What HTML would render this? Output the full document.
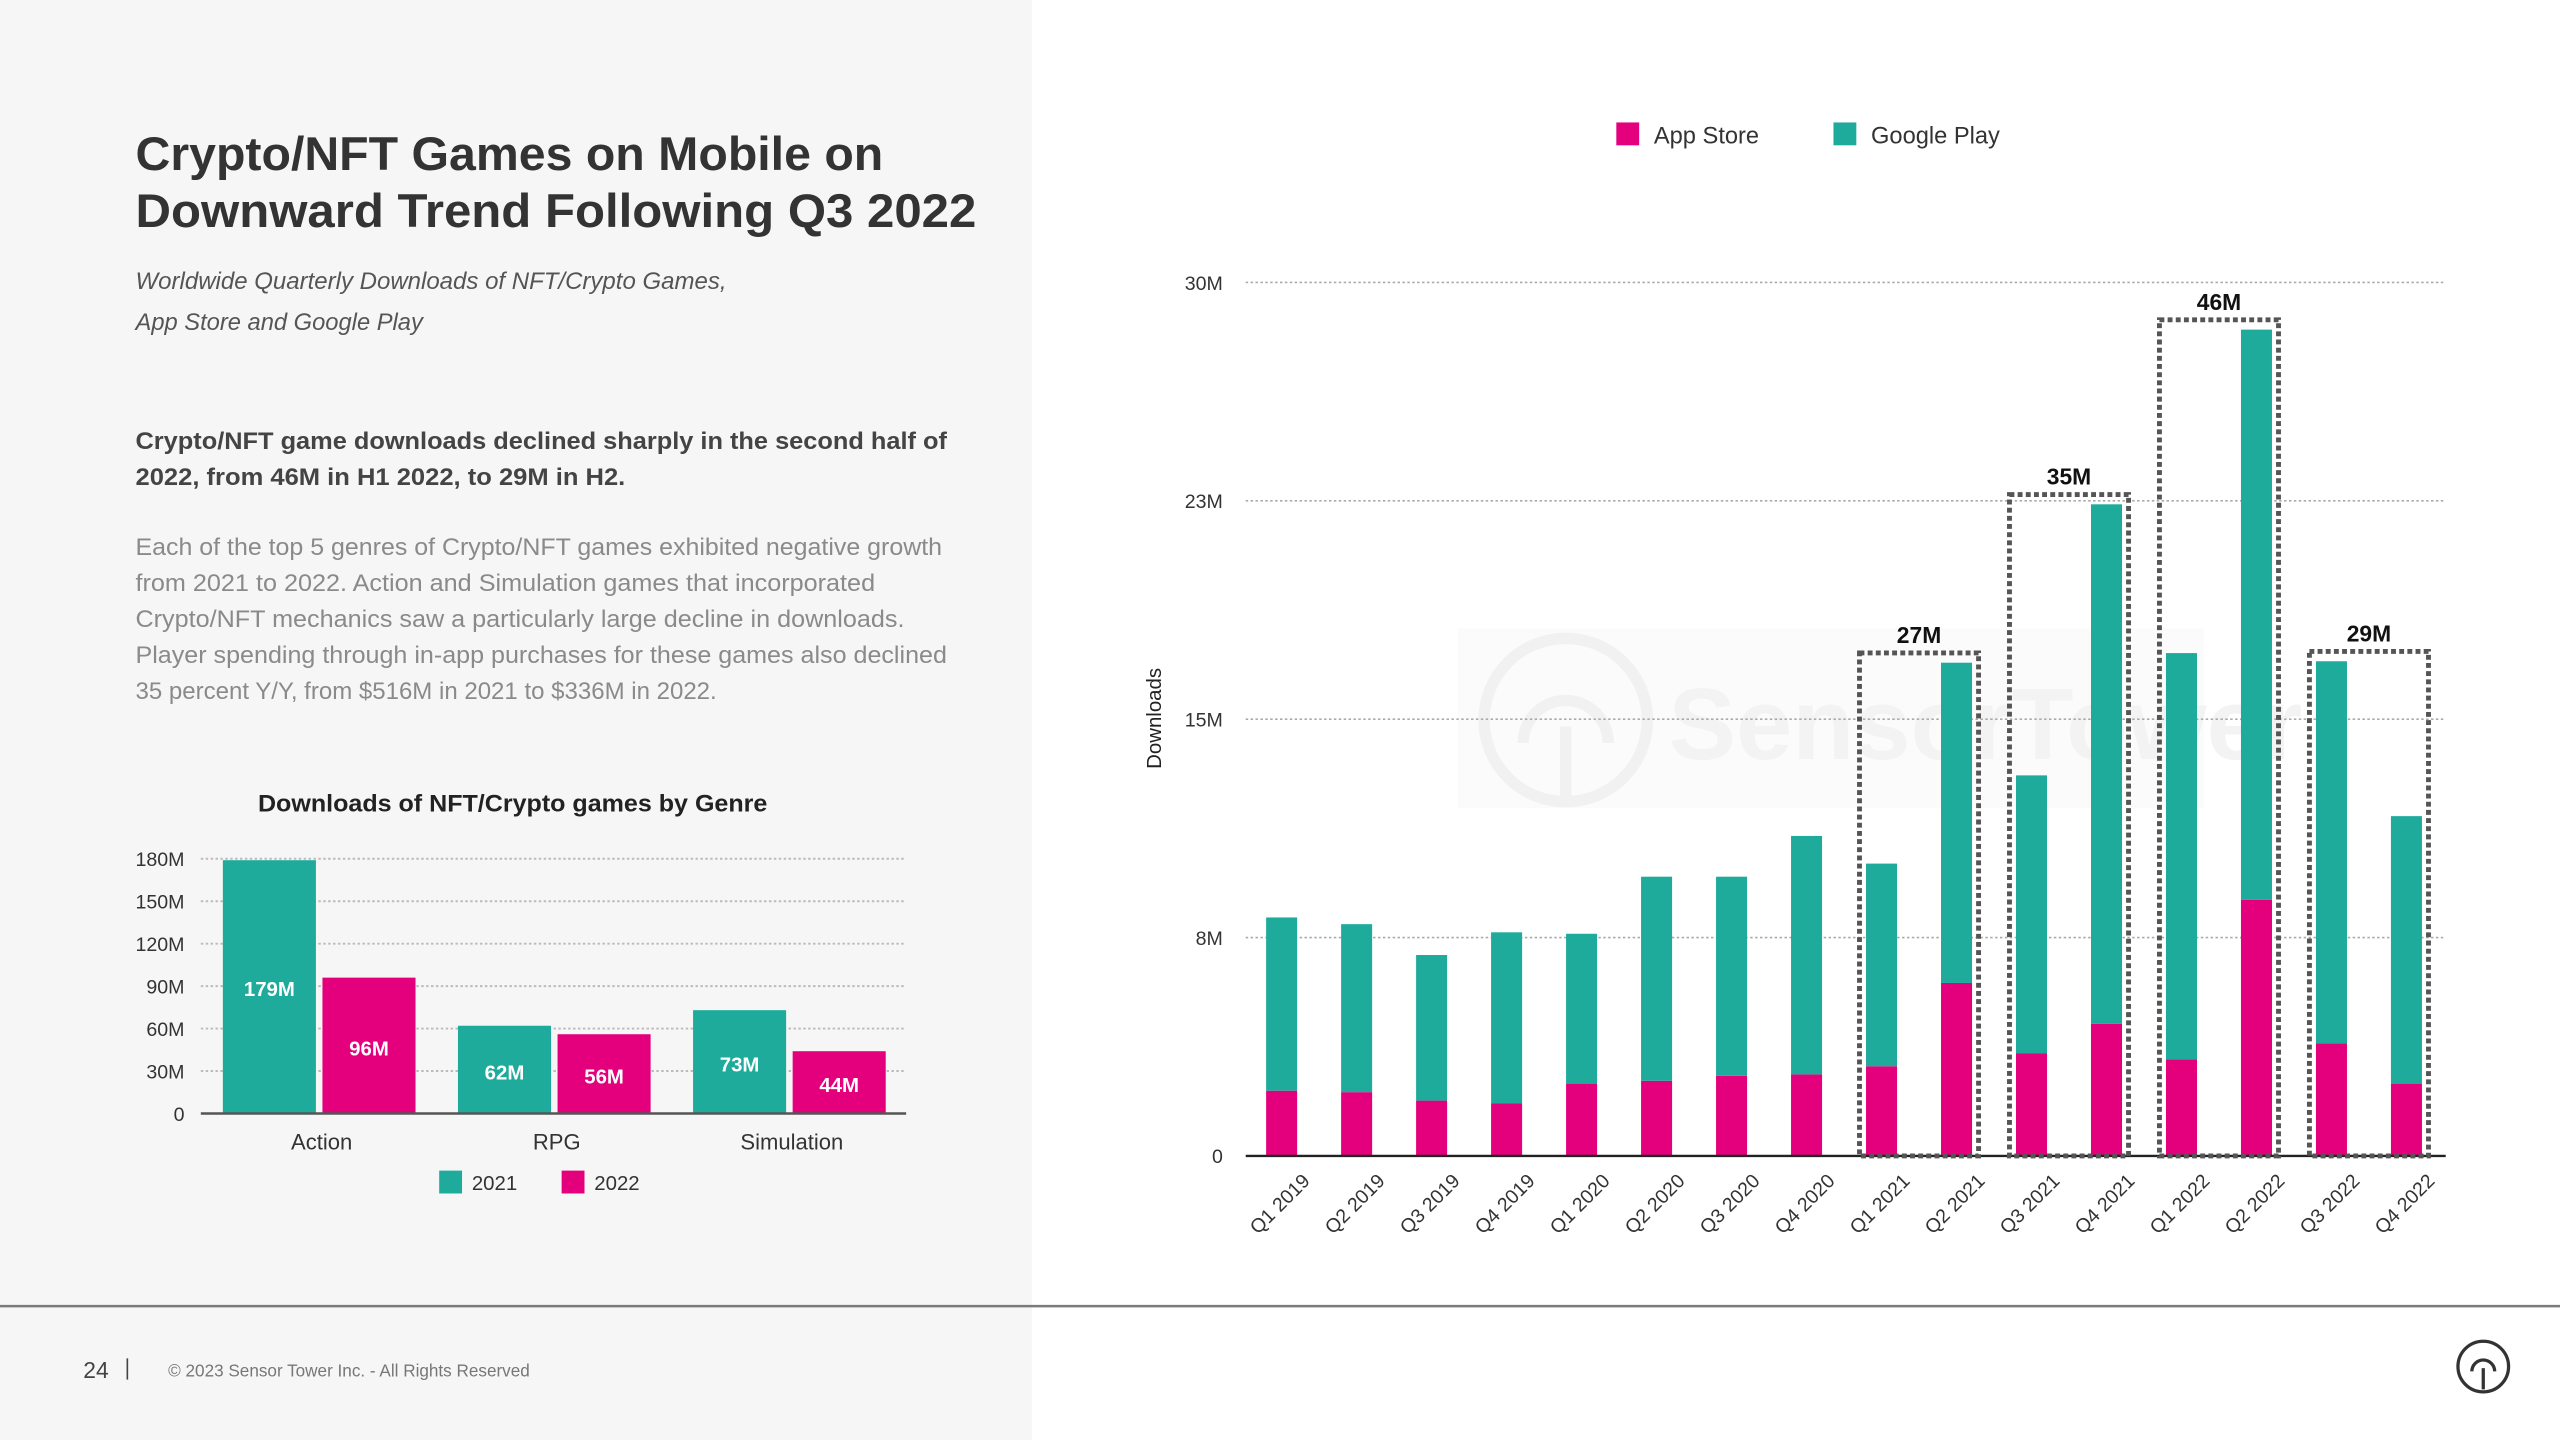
<!DOCTYPE html>
<html><head><meta charset="utf-8"><style>
html,body{margin:0;padding:0;background:#fff;}
svg{display:block;font-family:"Liberation Sans",sans-serif;}
</style></head><body>
<svg id="s" width="2560" height="1440" viewBox="0 0 1568 882" xmlns="http://www.w3.org/2000/svg">
<rect x="0" y="0" width="1568" height="882" fill="#fff"/>
<rect x="0" y="0" width="632" height="882" fill="#f6f6f6"/>
<g font-weight="bold" font-size="29" fill="#333">
<text x="83" y="104" textLength="458" lengthAdjust="spacingAndGlyphs">Crypto/NFT Games on Mobile on</text>
<text x="83" y="139" textLength="515" lengthAdjust="spacingAndGlyphs">Downward Trend Following Q3 2022</text>
</g>
<g font-style="italic" font-size="14.5" fill="#555">
<text x="83" y="177" textLength="362" lengthAdjust="spacingAndGlyphs">Worldwide Quarterly Downloads of NFT/Crypto Games,</text>
<text x="83" y="202" textLength="176" lengthAdjust="spacingAndGlyphs">App Store and Google Play</text>
</g>
<g font-weight="bold" font-size="14.5" fill="#444">
<text x="83" y="275" textLength="497" lengthAdjust="spacingAndGlyphs">Crypto/NFT game downloads declined sharply in the second half of</text>
<text x="83" y="297" textLength="300" lengthAdjust="spacingAndGlyphs">2022, from 46M in H1 2022, to 29M in H2.</text>
</g>
<g font-size="14.5" fill="#8a8a8a">
<text x="83" y="340" textLength="494" lengthAdjust="spacingAndGlyphs">Each of the top 5 genres of Crypto/NFT games exhibited negative growth</text>
<text x="83" y="362" textLength="453" lengthAdjust="spacingAndGlyphs">from 2021 to 2022. Action and Simulation games that incorporated</text>
<text x="83" y="384" textLength="471" lengthAdjust="spacingAndGlyphs">Crypto/NFT mechanics saw a particularly large decline in downloads.</text>
<text x="83" y="406" textLength="497" lengthAdjust="spacingAndGlyphs">Player spending through in-app purchases for these games also declined</text>
<text x="83" y="428" textLength="356" lengthAdjust="spacingAndGlyphs">35 percent Y/Y, from $516M in 2021 to $336M in 2022.</text>
</g>
<text x="314" y="497" text-anchor="middle" font-weight="bold" font-size="14.5" fill="#222" textLength="312" lengthAdjust="spacingAndGlyphs">Downloads of NFT/Crypto games by Genre</text>
<g id="genre"></g>
<g id="main"></g>
<line x1="0" y1="800" x2="1568" y2="800" stroke="#7a7a7a" stroke-width="1.5"/>
<text x="51" y="844" font-size="14" fill="#444">24</text>
<line x1="78" y1="832" x2="78" y2="845" stroke="#444" stroke-width="1"/>
<text x="103" y="843" font-size="10.5" fill="#777">© 2023 Sensor Tower Inc. - All Rights Reserved</text>
<g fill="none" stroke="#333" stroke-width="2">
<circle cx="1521" cy="837" r="15.5"/><path d="M1514 840 a7 7 0 1 1 14 0"/><line x1="1521" y1="838" x2="1521" y2="851"/>
</g>
</svg>
<script>
const NS='http://www.w3.org/2000/svg';
function mk(parent,tag,attrs,text){const e=document.createElementNS(NS,tag);for(const k in attrs)e.setAttribute(k,attrs[k]);if(text!==undefined)e.textContent=text;parent.appendChild(e);return e;}

// ---- genre chart data ----
const genreCategories=['Action','RPG','Simulation'];
const genre2021=[179,62,73];
const genre2022=[96,56,44];
const genreTicks=[0,30,60,90,120,150,180];
const genreYears=['2021','2022'];

// ---- main chart data ----
const quarters=['Q1 2019','Q2 2019','Q3 2019','Q4 2019','Q1 2020','Q2 2020','Q3 2020','Q4 2020','Q1 2021','Q2 2021','Q3 2021','Q4 2021','Q1 2022','Q2 2022','Q3 2022','Q4 2022'];
const appStore=[2.24,2.19,1.9,1.8,2.47,2.58,2.75,2.8,3.08,5.94,3.53,4.54,3.31,8.8,3.87,2.47];
const googlePlay=[5.95,5.77,5.0,5.88,5.16,7.01,6.84,8.19,6.96,11.0,9.54,17.84,13.96,19.58,13.12,9.2];
const mainTicks=[0,7.5,15,22.5,30];
const mainTickLabels=['0','8M','15M','23M','30M'];
const halfGroups=[[8,9],[10,11],[12,13],[14,15]];
const halfLabels=['27M','35M','46M','29M'];

const TEAL='#1eab9b',PINK='#e4007c';

// genre chart
(function(){
 const g=document.getElementById('genre');
 const x0=123,x1=555,yb=682,yt=526,maxV=180;
 const y=v=>yb-(v/maxV)*(yb-yt);
 genreTicks.forEach(t=>{
  if(t>0){const l=mk(g,'line',{x1:x0,x2:x1,y1:y(t),y2:y(t),stroke:'#bbb','stroke-width':1.2,'stroke-dasharray':'1.5 1.5'});
  
  }
  const tx=mk(g,'text',{x:113,y:y(t)+4.5,'text-anchor':'end','font-size':12,fill:'#333'},t===0?'0':t+'M');
  
  
 });
 const groupW=(x1-x0)/genreCategories.length, bw=57, gap=7;
 genreCategories.forEach((c,i)=>{
  const cx=x0+groupW*i+groupW/2+2;
  [[genre2021[i],TEAL,cx-bw-gap/2+3],[genre2022[i],PINK,cx+gap/2]].forEach(([v,col,bx],j)=>{
   const r=mk(g,'rect',{x:bx-3,y:y(v),width:bw,height:yb-y(v),fill:col});
   
   
   const ly=Math.max(y(v)+16,(y(v)+yb)/2+6);
   const t=mk(g,'text',{x:bx-3+bw/2,y:j===0&&i===0?610:ly,'text-anchor':'middle','font-size':12.5,'font-weight':'bold',fill:'#fff'},v+'M');
   
   
  });
  const lab=mk(g,'text',{x:cx,y:704,'text-anchor':'middle','font-size':13.5,fill:'#333'},c);
  
  
 });
 const ax=mk(g,'line',{x1:x0,x2:x1,y1:yb,y2:yb,stroke:'#555','stroke-width':1.5});
 
 
 [[269,TEAL,genreYears[0]],[344,PINK,genreYears[1]]].forEach(([lx,col,lbl])=>{
  const s=mk(g,'rect',{x:lx,y:717,width:14,height:14,fill:col});
  
  
  const t=mk(g,'text',{x:lx+20,y:729,'font-size':12.5,fill:'#333'},lbl);
  
  
 });
})();

// main chart
(function(){
 const g=document.getElementById('main');
 const x0=763,x1=1498,yb=708,yt=173,maxV=30;
 const y=v=>yb-(v/maxV)*(yb-yt);
 const first=785,step=45.93,bw=19;
 const xc=i=>first+i*step;
 const wm=mk(g,'rect',{x:893,y:385,width:457,height:110,fill:'#fbfbfb'});
 
 
 const wc=mk(g,'circle',{cx:959,cy:441,r:50,fill:'none',stroke:'#f1f1f1','stroke-width':7});
 
 
 const wp=mk(g,'path',{d:'M933 455 a26 26 0 1 1 52 0 M959 445 L959 492',fill:'none',stroke:'#f1f1f1','stroke-width':7});
 
 
 const wt=mk(g,'text',{x:1022,y:465,'font-size':62,'font-weight':'bold',fill:'#f3f3f3'},'SensorTower');
 
 
 mainTicks.forEach((t,i)=>{
  if(t>0){const l=mk(g,'line',{x1:x0,x2:x1,y1:y(t),y2:y(t),stroke:'#aaa','stroke-width':1,'stroke-dasharray':'1.5 1.5'});
  
  }
  const tx=mk(g,'text',{x:749,y:y(t)+4.5,'text-anchor':'end','font-size':12,fill:'#333'},mainTickLabels[i]);
  
  
 });
 quarters.forEach((q,i)=>{
  const a=appStore[i],gp=googlePlay[i];
  const r1=mk(g,'rect',{x:xc(i)-bw/2,y:y(a),width:bw,height:yb-y(a),fill:PINK});
  
  
  const r2=mk(g,'rect',{x:xc(i)-bw/2,y:y(a+gp),width:bw,height:y(a)-y(a+gp),fill:TEAL});
  
  
  const tx=xc(i)+18,ty=724;
  const t=mk(g,'text',{x:tx,y:ty,'text-anchor':'end','font-size':12,fill:'#333',transform:`rotate(-45 ${tx} ${ty})`},q);
  
  
 });
 const ax=mk(g,'line',{x1:x0,x2:x1,y1:yb,y2:yb,stroke:'#222','stroke-width':1.5});
 
 
 halfGroups.forEach((grp,k)=>{
  let top=0;grp.forEach(i=>{top=Math.max(top,appStore[i]+googlePlay[i]);});
  const bx=xc(grp[0])-bw/2-4,ex=xc(grp[1])+bw/2+4,by=y(top)-6;
  const r=mk(g,'rect',{x:bx,y:by,width:ex-bx,height:yb-by,fill:'none',stroke:'#555','stroke-width':3,'stroke-dasharray':'3 2'});
  
  
  const t=mk(g,'text',{x:(bx+ex)/2,y:by-6,'text-anchor':'middle','font-size':14,'font-weight':'bold',fill:'#111'},halfLabels[k]);
  
  
 });
 const yl=mk(g,'text',{x:711,y:440,'text-anchor':'middle','font-size':12.5,fill:'#222',transform:'rotate(-90 711 440)'},'Downloads');
 
 
 [[990,PINK,'App Store'],[1123,TEAL,'Google Play']].forEach(([lx,col,lbl])=>{
  const s=mk(g,'rect',{x:lx,y:75,width:14,height:14,fill:col});
  
  
  const t=mk(g,'text',{x:lx+23,y:88,'font-size':14.5,fill:'#333'},lbl);
  
  
 });
})();
</script>
</body></html>
